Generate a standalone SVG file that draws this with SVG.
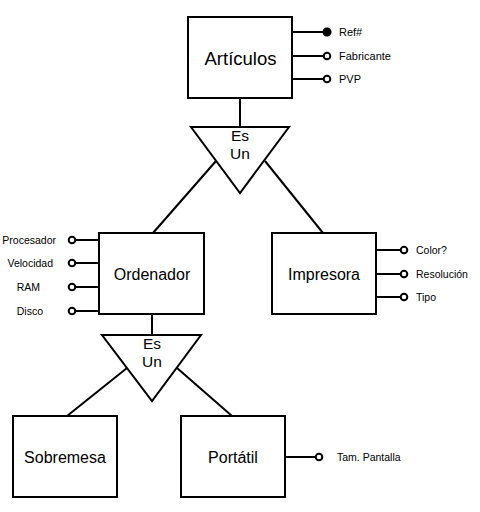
<svg xmlns="http://www.w3.org/2000/svg" width="480" height="512" viewBox="0 0 480 512">
<style>
.box{fill:#fff;stroke:#000;stroke-width:2}
.tri{fill:#fff;stroke:#000;stroke-width:2;stroke-linejoin:miter}
.ln{stroke:#000;stroke-width:2;fill:none}
.oc{fill:#fff;stroke:#000;stroke-width:2}
.fc{fill:#000;stroke:#000;stroke-width:1.5}
.big{font-family:"Liberation Sans",Arial,sans-serif;font-size:16px;fill:#000;text-anchor:middle}
.top{font-size:18.5px}
.isa{font-family:"Liberation Sans",Arial,sans-serif;font-size:15.5px;fill:#000;text-anchor:middle}
.att{font-family:"Liberation Sans",Arial,sans-serif;font-size:11px;fill:#000}
.attm{font-family:"Liberation Sans",Arial,sans-serif;font-size:10.5px;fill:#000}
.attr{font-family:"Liberation Sans",Arial,sans-serif;font-size:10.5px;fill:#000;text-anchor:end}
</style>
<rect width="480" height="512" fill="#fff"/>
<g id="connectors">
  <line class="ln" x1="240" y1="98" x2="240" y2="127"/>
  <line class="ln" x1="216" y1="161" x2="153" y2="233"/>
  <line class="ln" x1="265" y1="161" x2="323" y2="233"/>
  <line class="ln" x1="152" y1="314" x2="152" y2="335"/>
  <line class="ln" x1="127" y1="368" x2="67" y2="416"/>
  <line class="ln" x1="177" y1="368" x2="232" y2="416"/>
</g>
<g id="articulos">
  <rect class="box" x="188" y="17" width="104" height="81"/>
  <text class="big top" x="240.5" y="65">Artículos</text>
  <line class="ln" x1="292" y1="32" x2="327" y2="32"/>
  <circle class="fc" cx="327" cy="32" r="3.8"/>
  <text class="att" x="339" y="36">Ref#</text>
  <line class="ln" x1="292" y1="56" x2="324" y2="56"/>
  <circle class="oc" cx="327" cy="56" r="3.3"/>
  <text class="att" x="339" y="60">Fabricante</text>
  <line class="ln" x1="292" y1="79" x2="324" y2="79"/>
  <circle class="oc" cx="327" cy="79" r="3.3"/>
  <text class="att" x="339" y="83">PVP</text>
</g>
<g id="esun1">
  <polygon class="tri" points="191,127 289,127 240,193"/>
  <text class="isa" x="240" y="141">Es</text>
  <text class="isa" x="240" y="159">Un</text>
</g>
<g id="ordenador">
  <rect class="box" x="99" y="233" width="105" height="81"/>
  <text class="big" x="152" y="280">Ordenador</text>
  <line class="ln" x1="75" y1="240" x2="99" y2="240"/>
  <circle class="oc" cx="72" cy="240" r="3.3"/>
  <text class="attr" x="56" y="244">Procesador</text>
  <line class="ln" x1="75" y1="263" x2="99" y2="263"/>
  <circle class="oc" cx="72" cy="263" r="3.3"/>
  <text class="attr" x="53" y="267">Velocidad</text>
  <line class="ln" x1="75" y1="287" x2="99" y2="287"/>
  <circle class="oc" cx="72" cy="287" r="3.3"/>
  <text class="attr" x="40" y="291">RAM</text>
  <line class="ln" x1="75" y1="311" x2="99" y2="311"/>
  <circle class="oc" cx="72" cy="311" r="3.3"/>
  <text class="attr" x="43" y="315">Disco</text>
</g>
<g id="impresora">
  <rect class="box" x="272" y="233" width="104" height="81"/>
  <text class="big" x="324" y="280">Impresora</text>
  <line class="ln" x1="376" y1="250" x2="401" y2="250"/>
  <circle class="oc" cx="404" cy="250" r="3.3"/>
  <text class="attm" x="416" y="254">Color?</text>
  <line class="ln" x1="376" y1="274" x2="401" y2="274"/>
  <circle class="oc" cx="404" cy="274" r="3.3"/>
  <text class="attm" x="416" y="278">Resolución</text>
  <line class="ln" x1="376" y1="297" x2="401" y2="297"/>
  <circle class="oc" cx="404" cy="297" r="3.3"/>
  <text class="attm" x="416" y="301">Tipo</text>
</g>
<g id="esun2">
  <polygon class="tri" points="102,335 201,335 152,401"/>
  <text class="isa" x="152" y="349">Es</text>
  <text class="isa" x="152" y="367">Un</text>
</g>
<g id="sobremesa">
  <rect class="box" x="13" y="416" width="104" height="81"/>
  <text class="big" x="65" y="463">Sobremesa</text>
</g>
<g id="portatil">
  <rect class="box" x="181" y="416" width="104" height="81"/>
  <text class="big" x="233" y="463">Portátil</text>
  <line class="ln" x1="285" y1="457" x2="316" y2="457"/>
  <circle class="oc" cx="319" cy="457" r="3.3"/>
  <text class="attm" x="337" y="461">Tam. Pantalla</text>
</g>
</svg>
